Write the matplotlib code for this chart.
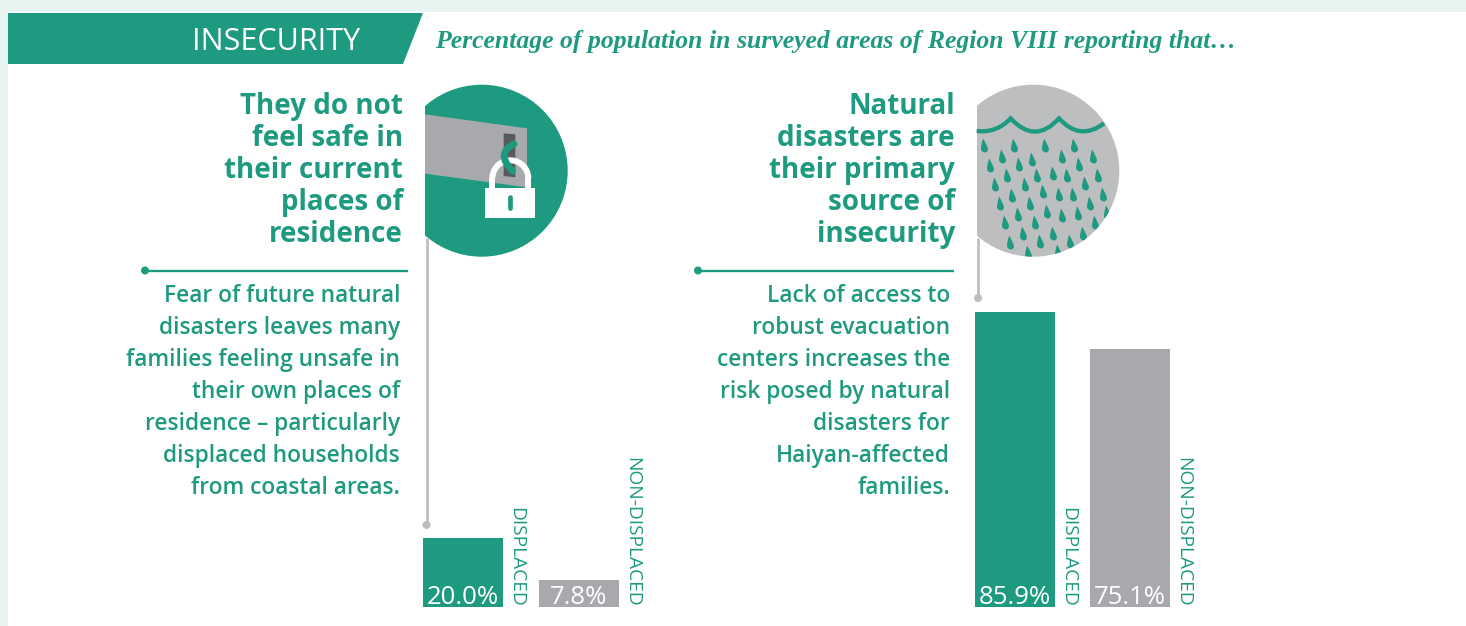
import matplotlib.pyplot as plt
from matplotlib.patches import Polygon, Circle, Rectangle, PathPatch, Arc
from matplotlib.path import Path
from matplotlib.markers import MarkerStyle

# Data
categories = ['DISPLACED', 'NON-DISPLACED']
unsafe_values = [20.0, 7.8]
disaster_values = [85.9, 75.1]
unsafe_title = ['They do not', 'feel safe in', 'their current', 'places of', 'residence']
disaster_title = ['Natural', 'disasters are', 'their primary', 'source of', 'insecurity']
unsafe_body = ['Fear of future natural', 'disasters leaves many', 'families feeling unsafe in',
               'their own places of', 'residence – particularly', 'displaced households',
               'from coastal areas.']
disaster_body = ['Lack of access to', 'robust evacuation', 'centers increases the',
                 'risk posed by natural', 'disasters for', 'Haiyan-affected', 'families.']

TEAL = '#1e9a80'
GRAY = '#a7a9ac'
LIGHT = '#bcbec0'
BG = '#e8f4f1'
FONT = 'Open Sans'

W, H = 1466, 626
fig = plt.figure(figsize=(W / 100, H / 100), dpi=100, facecolor='white')

# page layer in pixels
page = fig.add_axes([0, 0, 1, 1])
page.set_xlim(0, W)
page.set_ylim(H, 0)
page.axis('off')

page.add_patch(Rectangle((0, 0), W, 12, color=BG, lw=0))
page.add_patch(Rectangle((0, 0), 8, H, color=BG, lw=0))
page.add_patch(Polygon([(8, 13), (423, 13), (403, 64), (8, 64)], color=TEAL, lw=0))
page.text(276, 50, 'INSECURITY', color='white', fontsize=22, family=FONT,
          ha='center', va='baseline')
page.text(435, 48, 'Percentage of population in surveyed areas of Region VIII reporting that…',
          color=TEAL, fontsize=18.5, family='Liberation Serif', style='italic',
          weight='bold', ha='left', va='baseline')


def zoom_pt(x, y, ox, oy):
    # zoomed crop position back to page pixels
    return ox + x / 3, oy + y / 3


def text_block(lines, right, top, size, weight):
    for i, line in enumerate(lines):
        page.text(right, top + i * 32, line, color=TEAL, fontsize=size, family=FONT,
                  weight=weight, ha='right', va='baseline')


text_block(unsafe_title, 403, 114, 20, 'bold')
text_block(disaster_title, 955, 114, 20, 'bold')
text_block(unsafe_body, 400, 302, 16.4, 'semibold')
text_block(disaster_body, 950, 302, 16.4, 'semibold')

# rules under the titles
for x0, x1 in [(145, 408), (698, 954)]:
    page.plot([x0, x1], [270.5, 270.5], color=TEAL, lw=1.7, solid_capstyle='butt')
    page.add_patch(Circle((x0, 270.5), 4, color=TEAL, lw=0))

# poles
page.plot([426.5, 426.5], [238, 525], color=LIGHT, lw=2, solid_capstyle='butt')
page.add_patch(Circle((426.5, 525), 4, color=LIGHT, lw=0))
page.plot([978, 978], [238, 298], color=LIGHT, lw=2, solid_capstyle='butt')
page.add_patch(Circle((978, 298), 4, color=LIGHT, lw=0))

# lock icon
clip_left = Rectangle((425, 80), 150, 185, transform=page.transData)
disc = Circle((481.7, 170.7), 86, color=TEAL, lw=0)
page.add_patch(disc)
disc.set_clip_path(clip_left)
OX, OY = 400, 70
plank = [(75, 133), (381, 175), (381, 352), (75, 311)]
page.add_patch(Polygon([zoom_pt(x, y, OX, OY) for x, y in plank], color=GRAY, lw=0))
slot = [(311, 190), (346, 193), (346, 322), (311, 318)]
page.add_patch(Polygon([zoom_pt(x, y, OX, OY) for x, y in slot], color='#58595b', lw=0))
page.add_patch(Arc(zoom_pt(331, 325, OX, OY), 36, 36, theta1=180, theta2=360,
                   color='white', lw=4.3, zorder=2))
page.plot(*zip(zoom_pt(277, 325, OX, OY), zoom_pt(277, 360, OX, OY)), color='white', lw=4.3,
          solid_capstyle='butt', zorder=2)
page.plot(*zip(zoom_pt(385, 325, OX, OY), zoom_pt(385, 360, OX, OY)), color='white', lw=4.3,
          solid_capstyle='butt', zorder=2)
hook = Path([zoom_pt(342, 222, OX, OY), zoom_pt(285, 250, OX, OY), zoom_pt(338, 303, OX, OY)],
            [Path.MOVETO, Path.CURVE3, Path.CURVE3])
page.add_patch(PathPatch(hook, fill=False, edgecolor=TEAL, lw=5, capstyle='round', zorder=3))
x0, y0 = zoom_pt(256, 353, OX, OY)
page.add_patch(Rectangle((x0, y0), 49.5, 30, color='white', lw=0, zorder=3))
page.plot(*zip(zoom_pt(330, 381, OX, OY), zoom_pt(330, 413, OX, OY)), color=TEAL, lw=3.4,
          solid_capstyle='round', zorder=4)

# rain icon
OX, OY = 950, 70
clip_right = Rectangle((976.7, 80), 150, 185, transform=page.transData)
rain_disc = Circle((1033.3, 170.7), 86, color=LIGHT, lw=0)
page.add_patch(rain_disc)
rain_disc.set_clip_path(clip_right)
clip_round = Circle((1033.3, 170.7), 86, transform=page.transData)
wave = Path([zoom_pt(*p, OX, OY) for p in [(80, 183), (140, 190), (182, 145), (255, 225),
                                           (327, 145), (390, 215), (462, 160)]],
            [Path.MOVETO] + [Path.CURVE3] * 6)
wave_patch = PathPatch(wave, fill=False, edgecolor=TEAL, lw=3.1, joinstyle='miter')
page.add_patch(wave_patch)
wave_patch.set_clip_path(clip_round)

drops = [(103, 225), (192, 225), (284, 224), (373, 224), (119, 284), (157, 258), (208, 283),
         (245, 266), (336, 257), (388, 282), (428, 257), (172, 316), (135, 341), (224, 341),
         (262, 316), (309, 308), (352, 316), (404, 340), (443, 315), (280, 364), (187, 374),
         (328, 373), (368, 372), (459, 372), (150, 399), (240, 399), (419, 398), (204, 431),
         (291, 424), (336, 435), (383, 430), (472, 427), (165, 456), (256, 456), (435, 456),
         (219, 489), (309, 489), (399, 488), (181, 515), (271, 514), (361, 514), (235, 546),
         (323, 542)]
# teardrop, tip up and leaning a little to the left
drop_path = Path([(-0.2, 1), (-0.55, -0.1), (-0.5, -0.55), (-0.4, -1), (0.05, -1), (0.5, -1),
                  (0.5, -0.5), (0.45, -0.1), (-0.2, 1), (-0.2, 1)],
                 [Path.MOVETO, Path.CURVE3, Path.CURVE3, Path.CURVE3, Path.CURVE3, Path.CURVE3,
                  Path.CURVE3, Path.CURVE3, Path.CURVE3, Path.CLOSEPOLY])
for x, y in drops:
    px, py = zoom_pt(x, y, OX, OY)
    art = page.plot(px, py, marker=MarkerStyle(drop_path), ms=10, color=TEAL, mew=0)[0]
    art.set_clip_path(clip_round)


# bars
def bar_panel(centre_left, spacing, values):
    left = centre_left - spacing / 2
    ax = fig.add_axes([left / W, (H - 607) / H, 2 * spacing / W, 343 / H])
    ax.set_xlim(-0.5, 1.5)
    ax.set_ylim(0, 100)
    ax.axis('off')
    ax.patch.set_alpha(0)
    positions = list(range(len(values)))
    ax.bar(positions, values, width=80 / spacing, color=[TEAL, GRAY], lw=0)
    for i, v in enumerate(values):
        ax.annotate(f'{v:.1f}%', (i, 0), xytext=(0, 2.5), textcoords='offset points',
                    color='white', fontsize=18.5, family=FONT, ha='center', va='baseline')
        ax.annotate(categories[i], (i + 0.46, 0), xytext=(0, 0), textcoords='offset points',
                    color=TEAL, fontsize=13.8, family=FONT, rotation=270, ha='center',
                    va='bottom', annotation_clip=False)


bar_panel(463, 116, unsafe_values)
bar_panel(1015, 115, disaster_values)

fig.savefig('out.png', dpi=100)
